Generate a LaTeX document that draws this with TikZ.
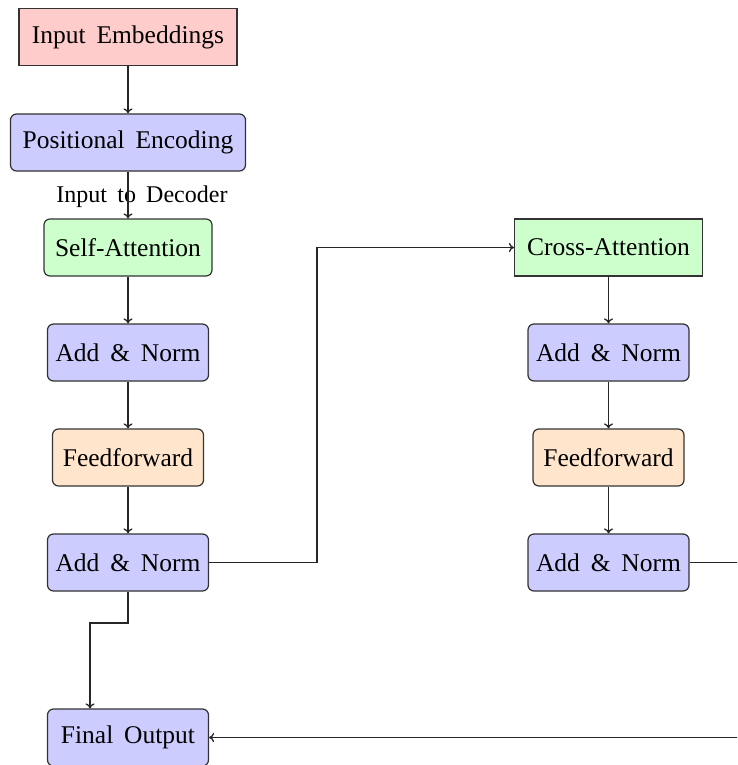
\documentclass[tikz,border=0pt]{standalone}
\usepackage{fontspec}
\setmainfont{Liberation Serif}[WordSpace=1.7]
\usetikzlibrary{arrows.meta}

\begin{document}
\begin{tikzpicture}[x=1pt,y=-1pt,
  box/.style={draw=black!80, line width=1.2pt, minimum height=57pt, inner sep=0pt,
              font=\fontsize{25.5}{30}\selectfont},
  rbox/.style={box, rounded corners=6pt},
  flow/.style={-{To[length=5pt,width=9pt]}, line width=1.3pt, draw=black!85},
  link/.style={line width=1.3pt, draw=black!85}]
\useasboundingbox (0,0) rectangle (737,765);
\clip (0,0) rectangle (737,765);

% decoder stack, left column
\node[box, fill=red!20, minimum width=218pt]  (emb) at (128,37)    {Input Embeddings};
\node[rbox, fill=blue!20, minimum width=235pt] (pos) at (128,142.5) {Positional Encoding};
\node[rbox, fill=green!20, minimum width=168pt] (sa) at (128,247.5) {Self-Attention};
\node[rbox, fill=blue!20, minimum width=161pt] (an1) at (128,352.5) {Add \& Norm};
\node[rbox, fill=orange!20, minimum width=151pt] (ff1) at (128,457.5) {Feedforward};
\node[rbox, fill=blue!20, minimum width=161pt] (an2) at (128,562.5) {Add \& Norm};
\node[rbox, fill=blue!20, minimum width=161pt] (out) at (128,737.5) {Final Output};

% cross-attention stack, right column
\node[box, fill=green!20, minimum width=188pt] (ca) at (608.5,247.5) {Cross-Attention};
\node[rbox, fill=blue!20, minimum width=161pt] (an3) at (608.5,352.5) {Add \& Norm};
\node[rbox, fill=orange!20, minimum width=151pt] (ff2) at (608.5,457.5) {Feedforward};
\node[rbox, fill=blue!20, minimum width=161pt] (an4) at (608.5,562.5) {Add \& Norm};

% label on the input arrow
\node[font=\fontsize{24}{28}\selectfont, inner sep=0pt] (lbl) at (142,197) {Input to Decoder};

% vertical flow
\draw[flow] (emb) -- (pos);
\draw[flow] (pos) -- (sa);
\draw[flow] (sa) -- (an1);
\draw[flow] (an1) -- (ff1);
\draw[flow] (ff1) -- (an2);
\draw[flow] (ca) -- (an3);
\draw[flow] (an3) -- (ff2);
\draw[flow] (ff2) -- (an4);

% into the cross-attention block
\coordinate (bend1) at (317,562.5);
\draw[flow] (an2.east) -- (bend1) |- (ca.west);

% down to the final output
\coordinate (step1) at (128,623);
\coordinate (step2) at (90,623);
\draw[flow] (an2.south) -- (step1) -- (step2) -- (step2 |- out.north);

% return path from the right column
\coordinate (far) at (790,562.5);
\draw[flow] (an4.east) -- (far) |- (out.east);
\end{tikzpicture}
\end{document}
